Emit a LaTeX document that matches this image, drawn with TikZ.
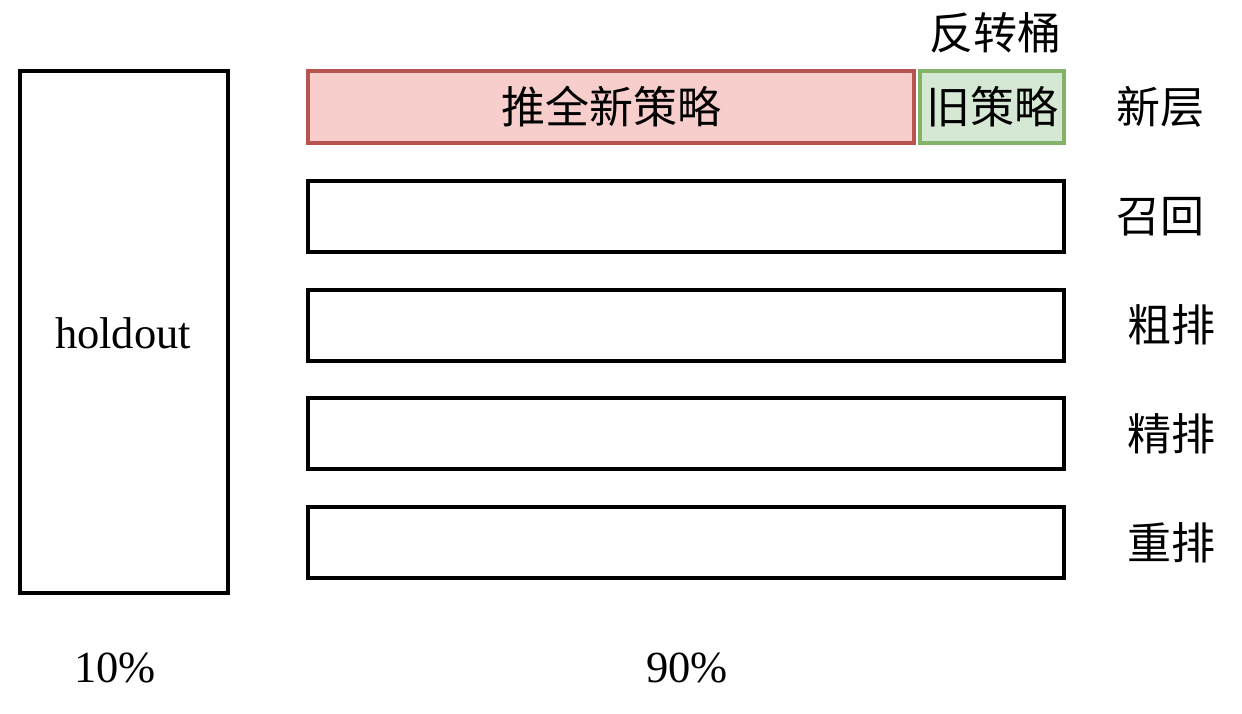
\documentclass[tikz,border=0pt]{standalone}
\usepackage{fontspec}
\setmainfont{Liberation Serif}
\newfontfamily\cjk{Noto Sans CJK SC}
\definecolor{redfill}{HTML}{F8CECC}
\definecolor{redline}{HTML}{B85450}
\definecolor{greenfill}{HTML}{D5E8D4}
\definecolor{greenline}{HTML}{82B366}
\begin{document}
\begin{tikzpicture}[x=1pt,y=-1pt,
  box/.style={draw=black,line width=3.2pt,inner sep=0pt,outer sep=0pt},
  lbl/.style={font=\fontsize{44}{44}\selectfont\cjk,inner sep=0pt},
  lat/.style={font=\fontsize{44.5}{44.5}\selectfont,inner sep=0pt}]
\useasboundingbox (0,0) rectangle (1242,713);
\node[box,minimum width=208pt,minimum height=522pt] (hold) at (124,332) {};
\node[lat] (holdt) at (123,333) {holdout};
\node[box,draw=redline,fill=redfill,minimum width=606pt,minimum height=72pt] (newp) at (611,107) {};
\node[lbl] at (newp.center) {推全新策略};
\node[box,draw=greenline,fill=greenfill,minimum width=144pt,minimum height=72pt] (oldp) at (992,107) {};
\node[lbl] at (oldp.center) {旧策略};
\node[box,minimum width=756pt,minimum height=71pt] (b1) at (686,216.5) {};
\node[box,minimum width=756pt,minimum height=71pt] (b2) at (686,325.5) {};
\node[box,minimum width=756pt,minimum height=71pt] (b3) at (686,433.5) {};
\node[box,minimum width=756pt,minimum height=71pt] (b4) at (686,542.5) {};
\node[lbl] (flip) at (995,33) {反转桶};
\node[lbl] (l0) at (1160,107) {新层};
\node[lbl] (l1) at (1160,217) {召回};
\node[lbl] (l2) at (1171,325) {粗排};
\node[lbl] (l3) at (1171,434) {精排};
\node[lbl] (l4) at (1171,543) {重排};
\node[lat] (p10) at (115,668) {10\%};
\node[lat] (p90) at (687,668) {90\%};
\end{tikzpicture}
\end{document}
